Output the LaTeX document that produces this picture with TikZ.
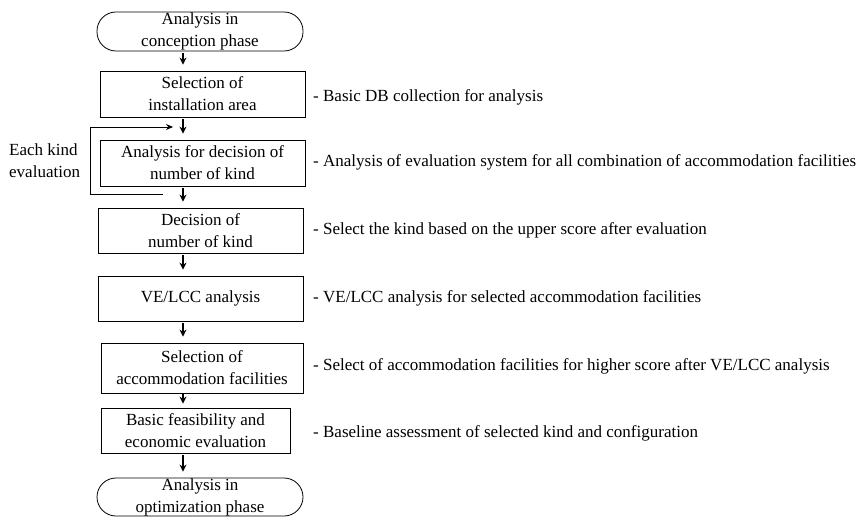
\documentclass[tikz,border=0pt]{standalone}
\usepackage{fontspec}
\setmainfont{Liberation Serif}
\usetikzlibrary{arrows.meta}
\begin{document}
\begin{tikzpicture}[x=1pt,y=-1pt,
  every node/.style={font=\fontsize{17}{22}\selectfont, text=black},
  box/.style={draw=black, line width=0.8pt, align=center, inner sep=0pt},
  term/.style={box, rounded corners=19pt},
  tip/.style={-{Stealth[length=7pt,width=7pt]}, line width=1.1pt},
  arr/.style={tip, shorten >=6pt, shorten <=2pt},
  desc/.style={anchor=west, inner sep=0pt}]
\useasboundingbox (0,0) rectangle (861,518);
\node[term, minimum width=206pt, minimum height=39pt] (t1) at (200,31.5) {Analysis in\\conception phase};
\node[box, minimum width=205pt, minimum height=46pt] (b1) at (202.5,94) {Selection of\\installation area};
\node[box, minimum width=205pt, minimum height=46pt] (b2) at (202.5,163) {Analysis for decision of\\number of kind};
\node[box, minimum width=205pt, minimum height=45pt] (b3) at (200.5,230.5) {Decision of\\number of kind};
\node[box, minimum width=205pt, minimum height=45pt] (b4) at (200.5,298.5) {VE/LCC analysis};
\node[box, minimum width=202pt, minimum height=50pt] (b5) at (202,368) {Selection of\\accommodation facilities};
\node[box, minimum width=189pt, minimum height=45pt] (b6) at (195.5,430.5) {Basic feasibility and\\economic evaluation};
\node[term, minimum width=206pt, minimum height=38pt] (t2) at (200,497) {Analysis in\\optimization phase};

\coordinate (ax) at (183,0);
\draw[arr] (t1.south -| ax) -- (b1.north -| ax);
\draw[arr] (b1.south -| ax) -- (b2.north -| ax);
\draw[arr] (b2.south -| ax) -- (b3.north -| ax);
\draw[arr] (b3.south -| ax) -- (b4.north -| ax);
\draw[arr] (b4.south -| ax) -- (b5.north -| ax);
\draw[arr, shorten >=4pt, shorten <=1pt] (b5.south -| ax) -- (b6.north -| ax);
\draw[arr] (b6.south -| ax) -- (t2.north -| ax);

\coordinate (lb) at (163,194);
\coordinate (lt) at (173,127);
\draw[-{Stealth[length=7pt,width=6pt]}, line width=0.8pt] (lb) -- (90,194) |- (lt);
\node[anchor=west, align=left, inner sep=0pt] (ek) at (9,161) {Each kind\\evaluation};

\node[desc] (d1) at (313,97) {- Basic DB collection for analysis};
\node[desc] (d2) at (313,162) {- Analysis of evaluation system for all combination of accommodation facilities};
\node[desc] (d3) at (313,230) {- Select the kind based on the upper score after evaluation};
\node[desc] (d4) at (313,298) {- VE/LCC analysis for selected accommodation facilities};
\node[desc] (d5) at (313,366) {- Select of accommodation facilities for higher score after VE/LCC analysis};
\node[desc] (d6) at (313,433) {- Baseline assessment of selected kind and configuration};
\end{tikzpicture}
\end{document}
